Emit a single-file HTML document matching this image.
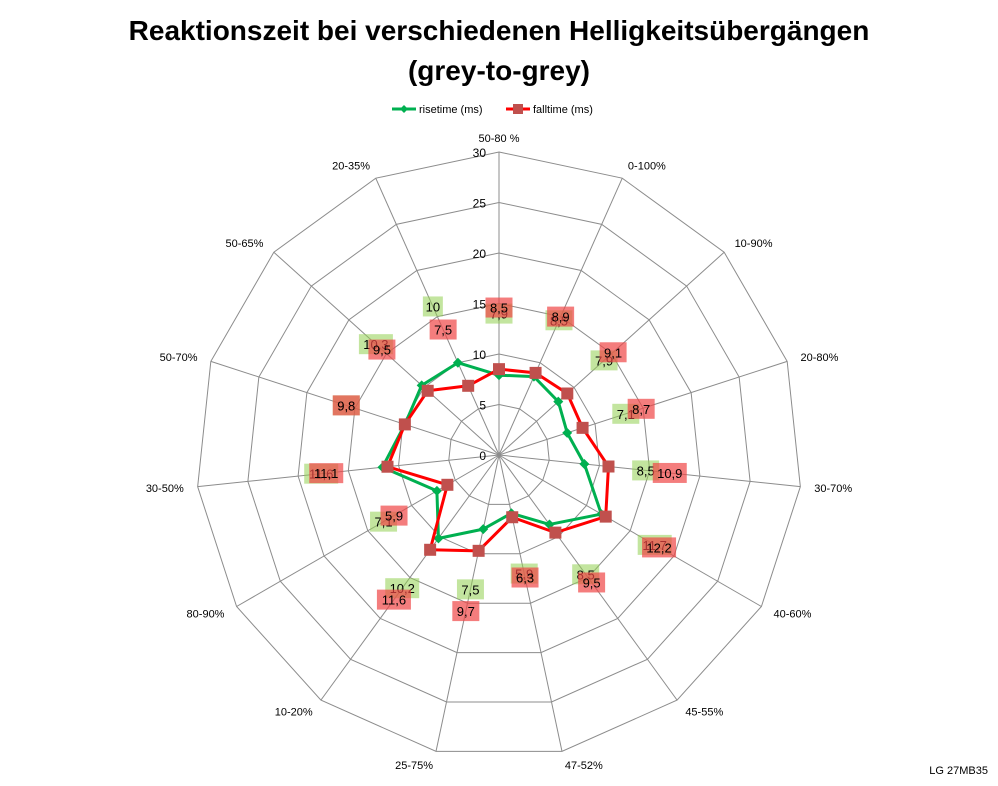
<!DOCTYPE html>
<html><head><meta charset="utf-8"><style>
body{margin:0;background:#fff;}
svg{display:block;font-family:"Liberation Sans",Arial,sans-serif;}
</style></head><body>
<svg id="chart" width="998" height="786" viewBox="0 0 998 786">
<text x="499" y="40" text-anchor="middle" font-size="28" font-weight="bold">Reaktionszeit bei verschiedenen Helligkeitsübergängen</text>
<text x="499" y="80" text-anchor="middle" font-size="28" font-weight="bold">(grey-to-grey)</text>
<g>
<g>
<line x1="392" y1="109" x2="416" y2="109" stroke="#00b050" stroke-width="3"/>
<path d="M404 105 L408 109 L404 113 L400 109Z" fill="#00b050"/>
<text x="419" y="113" font-size="11">risetime (ms)</text></g>
<g>
<line x1="506" y1="109" x2="530" y2="109" stroke="#ff0000" stroke-width="3"/>
<rect x="513" y="104" width="10" height="10" fill="#c0504d"/>
<text x="533" y="113" font-size="11">falltime (ms)</text></g>
</g>
<g id="grid"></g><g id="series"></g><g id="labels"></g>
<text x="988" y="774" text-anchor="end" font-size="11">LG 27MB35</text>
</svg>
<script>
const categories=["50-80 %","0-100%","10-90%","20-80%","30-70%","40-60%","45-55%","47-52%","25-75%","10-20%","80-90%","30-50%","50-70%","50-65%","20-35%"];
const risetime=[7.9,8.5,7.9,7.1,8.5,11.7,8.5,5.9,7.5,10.2,7.1,11.6,9.8,10.3,10];
const falltime=[8.5,8.9,9.1,8.7,10.9,12.2,9.5,6.3,9.7,11.6,5.9,11.1,9.8,9.5,7.5];
const ticks=[0,5,10,15,20,25,30];
const NS="http://www.w3.org/2000/svg";
const cx=499,cy=455,R=303,maxV=30;
const n=categories.length;
function ang(i){return i*2*Math.PI/n;}
function px(i,v){return cx+Math.sin(ang(i))*v/maxV*R;}
function py(i,v){return cy-Math.cos(ang(i))*v/maxV*R;}
function mk(tag,attrs,parent){const e=document.createElementNS(NS,tag);for(const k in attrs)e.setAttribute(k,attrs[k]);parent.appendChild(e);return e;}
const grid=document.getElementById('grid'),ser=document.getElementById('series'),lab=document.getElementById('labels');
ticks.forEach(t=>{if(t===0)return;
 let pts=categories.map((c,i)=>px(i,t)+','+py(i,t)).join(' ');
 const p=mk('polygon',{points:pts,fill:'none',stroke:'#8c8c8c','stroke-width':1},grid);
 
 
});
categories.forEach((c,i)=>{
 const l=mk('line',{x1:cx,y1:cy,x2:px(i,maxV),y2:py(i,maxV),stroke:'#8c8c8c','stroke-width':1},grid);
 
 
 const s=Math.sin(ang(i)),co=Math.cos(ang(i));
 const lx=cx+s*(R+14),ly=cy-co*(R+14)+4;
 const anchor=Math.abs(s)<0.2?'middle':(s>0?'start':'end');
 const t=mk('text',{x:lx,y:ly,'font-size':11,'text-anchor':anchor},lab);
 t.textContent=c;
 
 
});
ticks.forEach(t=>{
 const e=mk('text',{x:cx-13,y:cy-t/maxV*R+5,'font-size':12,'text-anchor':'end'},lab);
 e.textContent=t;
 
 
});
function series(vals,color,mcolor,shape,name,bg){
 const pts=vals.map((v,i)=>px(i,v)+','+py(i,v)).join(' ');
 const pl=mk('polygon',{points:pts,fill:'none',stroke:color,'stroke-width':3,'stroke-linejoin':'round'},ser);
 
 
 vals.forEach((v,i)=>{
  const x=px(i,v),y=py(i,v);let m;
  if(shape==='d')m=mk('path',{d:`M${x} ${y-5}L${x+5} ${y}L${x} ${y+5}L${x-5} ${y}Z`,fill:mcolor},ser);
  else m=mk('rect',{x:x-6,y:y-6,width:12,height:12,fill:mcolor},ser);
  
  
  const lv=v+6.1,lx=px(i,lv),ly=py(i,lv);
  const txt=String(v).replace('.',',');
  const w=txt.length*7+6;
  const r=mk('rect',{x:lx-w/2,y:ly-10,width:w,height:20,fill:bg},lab);
  
  
  const t=mk('text',{x:lx,y:ly+5,'font-size':13,'text-anchor':'middle'},lab);
  t.textContent=txt;
  
  
 });
}
series(risetime,'#00b050','#00b050','d','risetime','rgba(146,208,80,0.55)');
series(falltime,'#ff0000','#c0504d','s','falltime','rgba(240,70,70,0.7)');
</script>
</body></html>
